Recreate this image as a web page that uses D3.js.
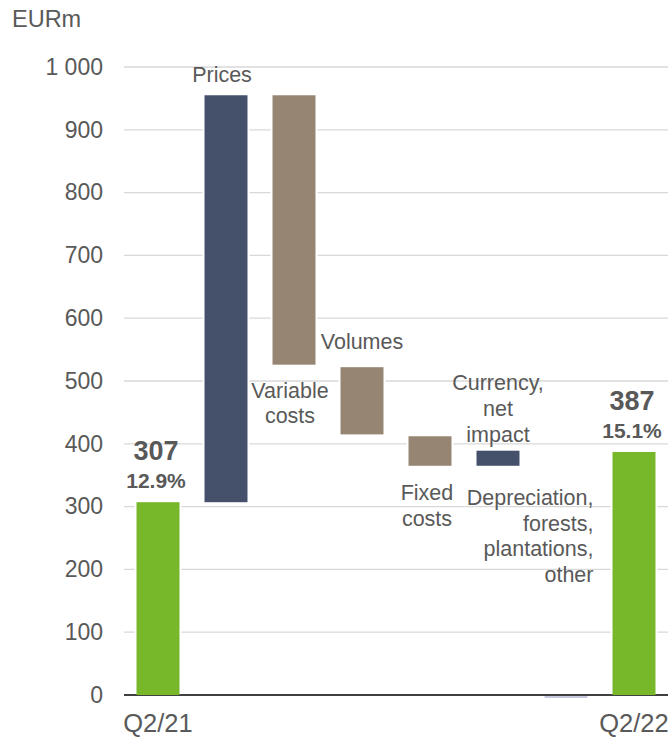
<!DOCTYPE html>
<html><head><meta charset="utf-8">
<script src="https://cdn.jsdelivr.net/npm/d3@7"></script>
<style>body{margin:0;background:#fff}svg{display:block}text{font-family:"Liberation Sans",Arial,sans-serif}</style>
</head><body>
<svg id="c" width="670" height="739"></svg>
<script>
// ---- data ----
const categories = ["Q2/21","Prices","Variable costs","Volumes","Fixed costs","Currency, net impact","Depreciation, forests, plantations, other","Q2/22"];
const barStart = [0, 307, 955, 522, 412, 365, 0, 0];
const barEnd   = [307, 955, 526, 415, 365, 389, -3, 387];
const barType  = ["total","increase","decrease","decrease","decrease","increase","other","total"];
const labelLines = [[], ["Prices"], ["Variable","costs"], ["Volumes"], ["Fixed","costs"], ["Currency,","net","impact"], ["Depreciation,","forests,","plantations,","other"], []];
const totalValues = ["307", "", "", "", "", "", "", "387"];
const marginPct  = ["12.9%", "", "", "", "", "", "", "15.1%"];
const yTicks = [0,100,200,300,400,500,600,700,800,900,1000];
const unitLabel = "EURm";

// ---- chart ----
const colors = {total:"#77b82a", increase:"#45516a", decrease:"#978573", other:"#c6c9df"};
const textColor = "#595959";
const svg = d3.select("#c");
const x = d3.scaleBand().domain(categories).range([124, 668]).paddingInner(0.368).paddingOuter(0.184);
const y = d3.scaleLinear().domain([0, 1000]).range([695, 67]);
const fmt = d3.formatLocale({decimal:".", thousands:" ", grouping:[3], currency:["",""]}).format(",d");

// gridlines
svg.append("g").selectAll("line").data(yTicks.filter(d=>d>0)).join("line")
  .attr("x1",124).attr("x2",668).attr("y1",d=>y(d)).attr("y2",d=>y(d))
  .attr("stroke","#d9d9d9").attr("stroke-width",1.3);

// y axis labels
const ya = svg.append("g").attr("transform","translate(124,0)")
  .call(d3.axisLeft(y).tickValues(yTicks).tickFormat(fmt).tickSize(0).tickPadding(21));
ya.select(".domain").remove();
ya.selectAll("text").attr("font-size",23).attr("fill",textColor).style("font-family",'"Liberation Sans",Arial,sans-serif');

svg.append("text").attr("x",12).attr("y",27).attr("font-size",23.5).attr("fill",textColor).text(unitLabel);

// bars (white halo to break gridlines)
const idx = d3.range(categories.length);
svg.append("g").selectAll("rect").data(idx.filter(i=>barType[i]!=="other")).join("rect")
  .attr("x",i=>x(categories[i])-2).attr("width",x.bandwidth()+4)
  .attr("y",i=>y(Math.max(barStart[i],barEnd[i]))-2)
  .attr("height",i=>Math.abs(y(barStart[i])-y(barEnd[i]))+4)
  .attr("fill","#fff");

// axis line
svg.append("line").attr("x1",124).attr("x2",668).attr("y1",y(0)).attr("y2",y(0)).attr("stroke","#000").attr("stroke-width",1.3);

svg.append("g").selectAll("rect").data(idx).join("rect")
  .attr("x",i=>x(categories[i])).attr("width",x.bandwidth())
  .attr("y",i=>barType[i]==="other" ? y(0)+1 : y(Math.max(barStart[i],barEnd[i])))
  .attr("height",i=>barType[i]==="other" ? 2 : Math.abs(y(barStart[i])-y(barEnd[i])))
  .attr("fill",i=>colors[barType[i]]);

// category labels
const cx = i => x(categories[i]) + x.bandwidth()/2;
const lab = svg.append("g").attr("fill",textColor).attr("font-size",21.5);
function lines(i, ax, firstBase, anchor, lh){
  labelLines[i].forEach((t,k)=>{
    lab.append("text").attr("x",ax).attr("y",firstBase + k*lh).attr("text-anchor",anchor).text(t);
  });
}
lines(1, cx(1)-4, 82, "middle", 25);
lines(2, cx(2)-4, y(526)+33, "middle", 25);
lines(3, cx(3), y(522)-18, "middle", 25);
lines(4, cx(4)-3, y(365)+34, "middle", 26);
lines(5, cx(5), y(389)-61, "middle", 26);
lines(6, x(categories[6])+x.bandwidth()+6, 505, "end", 25.5);

// totals
[0,7].forEach(i=>{
  const top = y(barEnd[i]);
  svg.append("text").attr("x",cx(i)-2).attr("y",top-42).attr("text-anchor","middle")
    .attr("font-size",27).attr("font-weight","bold").attr("fill",textColor).text(totalValues[i]);
  svg.append("text").attr("x",cx(i)-2).attr("y",top-14).attr("text-anchor","middle")
    .attr("font-size",21).attr("font-weight","bold").attr("fill",textColor).text(marginPct[i]);
  svg.append("text").attr("x",cx(i)).attr("y",732).attr("text-anchor","middle")
    .attr("font-size",25.5).attr("fill",textColor).text(categories[i]);
});
</script>
</body></html>
